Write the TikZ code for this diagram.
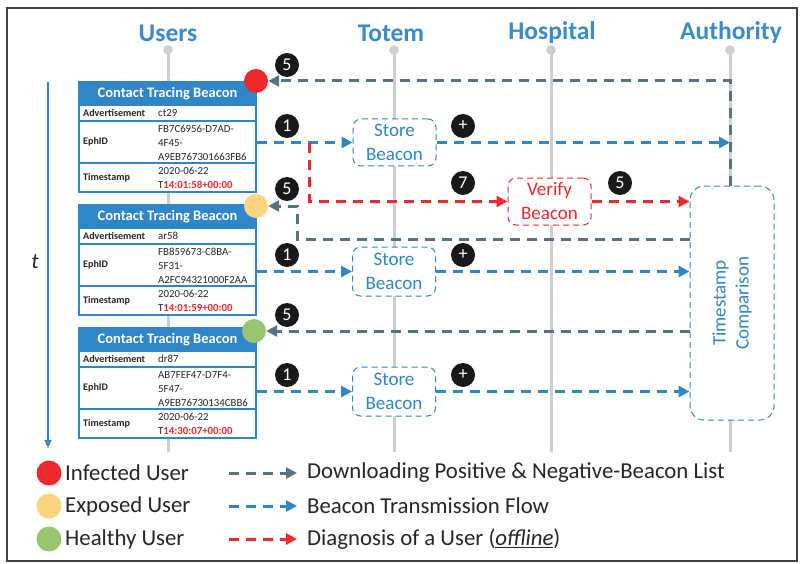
\documentclass[tikz,border=0pt]{standalone}
\usepackage{fontspec}
\setmainfont{Carlito}
\usetikzlibrary{arrows.meta,calc}
\definecolor{tblue}{HTML}{2F86C8}
\definecolor{ttitle}{HTML}{3A8BCB}
\definecolor{slate}{HTML}{587284}
\definecolor{tred}{HTML}{EC2A2D}
\definecolor{lgray}{HTML}{CDCDD3}
\definecolor{cyel}{HTML}{F9D580}
\definecolor{cgreen}{HTML}{97C66E}
\definecolor{tdark}{HTML}{262626}
\newcommand{\beacon}[5]{%
 \node[rowbox, minimum height=16] (#1a) at (167.5,{#2+31}) {};
 \node[rowbox, minimum height=42] (#1e) at (167.5,{#2+60}) {};
 \node[rowbox, minimum height=29] (#1t) at (167.5,{#2+95.5}) {};
 \node[hdr] (#1h) at (167.5,{#2+11.5}) {Contact Tracing Beacon};
 \node[lbl] (#1al) at (83,{#2+31}) {Advertisement};
 \node[val] (#1av) at (158,{#2+31}) {#3};
 \node[lbl] (#1el) at (83,{#2+60}) {EphID};
 \node[val] (#1ev) at (158,{#2+61}) {#4};
 \node[lbl] (#1tl) at (83,{#2+96}) {Timestamp};
 \node[val] (#1tv) at (158,{#2+96}) {2020-06-22\\T\textcolor{tred}{\bfseries #5}};
}
\tikzset{
 title/.style={font=\fontsize{25.5}{30}\selectfont\bfseries, text=ttitle},
 life/.style={draw=lgray, line width=3pt},
 hdr/.style={fill=tblue, draw=tblue, line width=1.2pt, text=white, font=\fontsize{14.5}{17}\selectfont\bfseries, minimum width=177, minimum height=23, inner sep=0},
 rowbox/.style={draw=tblue, line width=1.2pt, fill=white, minimum width=177, inner sep=0},
 lbl/.style={font=\fontsize{10.1}{12}\selectfont\bfseries, text=tdark, anchor=west, inner sep=0},
 val/.style={font=\fontsize{10.8}{13.7}\selectfont, text=tdark, anchor=west, align=left, inner sep=0},
 badge/.style={circle, fill=black!90, text=white, inner sep=0, minimum size=24, font=\fontsize{18}{18}\selectfont},
 usr/.style={circle, inner sep=0, minimum size=24},
 procbox/.style={draw=tblue, text=tblue, fill=white, line width=1pt, dash pattern=on 6pt off 4pt, rounded corners=8pt, align=center, font=\fontsize{19}{24}\selectfont, inner sep=0},
 dl/.style={line width=3pt, dash pattern=on 10pt off 7pt},
 blueflow/.style={dl, draw=tblue, -{Triangle[length=11pt,width=11pt]}},
 slateflow/.style={dl, draw=slate, -{Triangle[length=11pt,width=11pt]}},
 redflow/.style={dl, draw=tred, -{Triangle[length=11pt,width=11pt]}},
 legtext/.style={anchor=west, font=\fontsize{22.8}{26}\selectfont, text=tdark, inner sep=0},
}
\begin{document}
\begin{tikzpicture}[x=1pt,y=-1pt]
\useasboundingbox (0,0) rectangle (802,564);
\draw[black!75, line width=1.3pt] (7,8) rectangle (797,561);
% titles
\node[title] (tusers) at (168,33) {Users};
\node[title] (ttotem) at (391,33) {Totem};
\node[title] (thosp) at (552,33) {Hospital};
\node[title] (tauth) at (731,33) {Authority};
% lifelines
\foreach \n/\x in {u/168, t/394, h/551, a/730}{
  \coordinate (\n Top) at (\x,50);
  \coordinate (\n Bot) at (\x,452);
  \draw[life] (\n Top) -- (\n Bot);
  \fill[lgray] (\n Top) circle (4.8);
}
% time axis
\coordinate (tTop) at (48,82);
\coordinate (tBot) at (48,448);
\draw[tblue, line width=1.6pt, -{Triangle[length=8pt,width=7pt]}] (tTop) -- (tBot);
\node[font=\fontsize{22}{22}\selectfont\itshape, text=tdark] (tlab) at (35,262) {t};
% beacon tables
\beacon{b1}{82}{ct29}{FB7C6956-D7AD-\\4F45-\\A9EB767301663FB6}{14:01:58+00:00}
\beacon{b2}{205}{ar58}{FB859673-C8BA-\\5F31-\\A2FC94321000F2AA}{14:01:59+00:00}
\beacon{b3}{328}{dr87}{AB7FEF47-D7F4-\\5F47-\\A9EB76730134CBB6}{14:30:07+00:00}
% user state circles
\node[usr, fill=tred] (infected) at (256,81) {};
\node[usr, fill=cyel] (exposed) at (256,206) {};
\node[usr, fill=cgreen] (healthy) at (254,331) {};
% process boxes
\node[procbox, minimum width=83, minimum height=47] (store1) at (394.5,142.5) {Store\\Beacon};
\node[procbox, minimum width=83, minimum height=49] (store2) at (394,271.5) {Store\\Beacon};
\node[procbox, minimum width=83, minimum height=49] (store3) at (394,391.5) {Store\\Beacon};
\node[procbox, draw=tred, text=tred, minimum width=83, minimum height=47] (verify) at (549.5,201.5) {Verify\\Beacon};
\node[procbox, rounded corners=14pt, minimum width=84, minimum height=234] (tc) at (732,303) {};
\node[rotate=90, align=center, text=tblue, font=\fontsize{19}{23}\selectfont, inner sep=0] (tctext) at (tc.center) {Timestamp\\Comparison};
% connectors
\coordinate (s1a) at (730,186);
\draw[slateflow] (s1a) |- (infected.east);
\draw[blueflow] (b1e.east |- store1.west) -- (store1.west);
\draw[blueflow] (store1.east) -- (store1.east -| aTop);
\coordinate (rsplit) at (309,143);
\draw[redflow] (rsplit) |- (verify.west);
\draw[redflow] (verify.east) -- (verify.east -| tc.west);
\coordinate (s2a) at (690,239);
\coordinate (s2c) at (297,206);
\draw[slateflow] (s2a) -| (s2c) -- (exposed.east);
\draw[blueflow] (b2e.east |- store2.west) -- (store2.west);
\draw[blueflow] (store2.east) -- (store2.east -| tc.west);
\coordinate (s3a) at (690,331);
\draw[slateflow] (s3a) -- (healthy.east);
\draw[blueflow] (b3e.east |- store3.west) -- (store3.west);
\draw[blueflow] (store3.east) -- (store3.east -| tc.west);
% badges
\node[badge] (n5a) at (287,65) {5};
\node[badge] (n1a) at (287,126) {1};
\node[badge] (npa) at (463,126) {+};
\node[badge] (n7) at (463,183) {7};
\node[badge] (n5v) at (620,183) {5};
\node[badge] (n5b) at (287,189) {5};
\node[badge] (n1b) at (287,255) {1};
\node[badge] (npb) at (463,255) {+};
\node[badge] (n5c) at (287,315) {5};
\node[badge] (n1c) at (287,375) {1};
\node[badge] (npc) at (463,375) {+};
% legend
\node[usr, fill=tred, minimum size=25] (linf) at (49,473) {};
\node[usr, fill=cyel, minimum size=25] (lexp) at (49,506) {};
\node[usr, fill=cgreen, minimum size=25] (lhea) at (49,539) {};
\node[legtext] (tinf) at (65,473) {Infected User};
\node[legtext] (texp) at (65,506) {Exposed User};
\node[legtext] (thea) at (65,539) {Healthy User};
\coordinate (l1s) at (229,473); \coordinate (l1e) at (297,473);
\coordinate (l2s) at (229,506); \coordinate (l2e) at (297,506);
\coordinate (l3s) at (229,539); \coordinate (l3e) at (297,539);
\draw[slateflow] (l1s) -- (l1e);
\draw[blueflow] (l2s) -- (l2e);
\draw[redflow] (l3s) -- (l3e);
\node[legtext] (tl1) at (307,473) {Downloading Positive \& Negative-Beacon List};
\node[legtext] (tl2) at (307,506) {Beacon Transmission Flow};
\node[legtext] (tl3) at (307,539) {Diagnosis of a User (\textit{\underline{offline}})};
\end{tikzpicture}
\end{document}
